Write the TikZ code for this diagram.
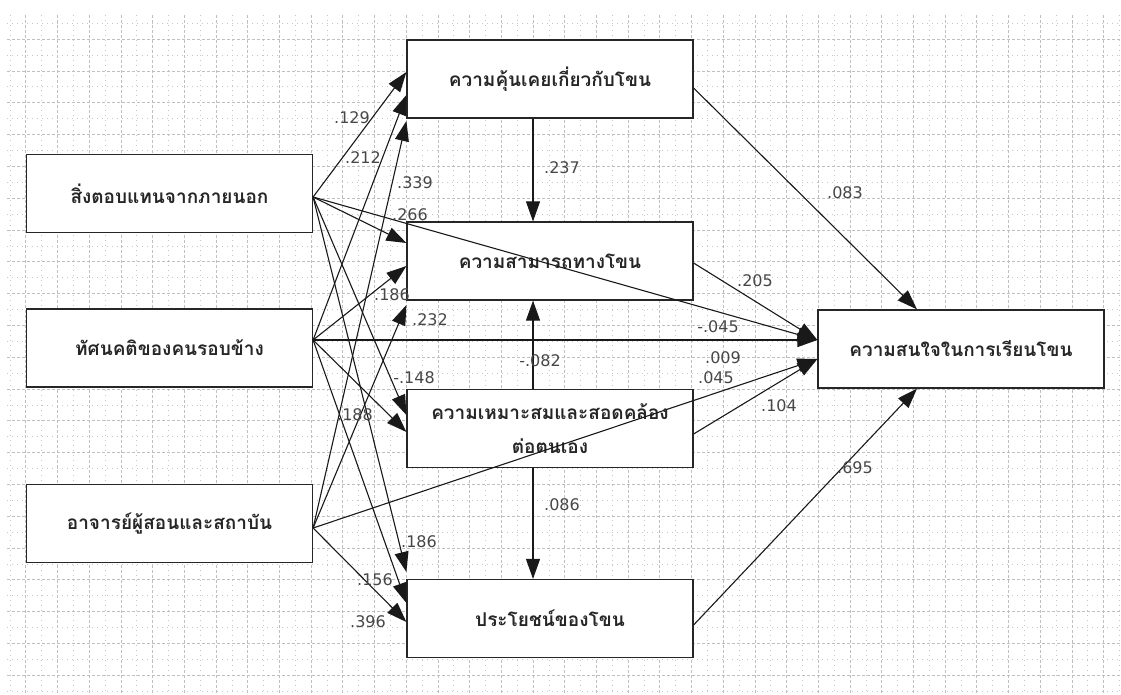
\documentclass[tikz,border=0pt]{standalone}
\usepackage{fontspec}
\usepackage{tikz}
\usetikzlibrary{arrows.meta}
\newfontfamily\thaifont[Script=Thai]{Loma}
\newfontfamily\numfont{DejaVu Sans}

\begin{document}
\begin{tikzpicture}[x=1pt, y=-1pt,
		box/.style={draw=black!85, line width=1.2pt, fill=white, minimum width=286pt, minimum height=78pt,
			inner sep=0pt, align=center, text=black!85, font=\thaifont\bfseries\fontsize{19}{34}\selectfont},
		link/.style={draw=black!90, line width=1.1pt, -{Triangle[length=20pt,width=14pt]}},
		coef/.style={inner sep=0pt, text=black!72, font=\numfont\fontsize{16}{18}\selectfont},
		gridA/.style={gray!50, line width=0.8pt, dash pattern=on 3pt off 2pt},
		gridB/.style={gray!45, line width=0.8pt, dash pattern=on 1pt off 4pt}]
		\useasboundingbox[fill=white] (0,0) rectangle (1121,695);

		% Draw the background grid
		\foreach \i in {0,...,70} {
			\pgfmathsetmacro\gx{10+15.85*\i}
			\ifodd\i \draw[gridA] (\gx,15) -- (\gx,695); \else \draw[gridB] (\gx,15) -- (\gx,695); \fi
		}
		\foreach \j in {0,...,42} {
			\pgfmathsetmacro\gy{23.3+15.9*\j}
			\ifodd\j \draw[gridA] (7,\gy) -- (1121,\gy); \else \draw[gridB] (7,\gy) -- (1121,\gy); \fi
		}

		% Draw the boxes
		\node[box] (ext) at (169.5,193.5) {สิ่งตอบแทนจากภายนอก};
		\node[box] (att) at (169.5,348) {ทัศนคติของคนรอบข้าง};
		\node[box] (tea) at (169.5,523.5) {อาจารย์ผู้สอนและสถาบัน};
		\node[box] (fam) at (550,79) {ความคุ้นเคยเกี่ยวกับโขน};
		\node[box] (abi) at (550,261) {ความสามารถทางโขน};
		\node[box] (fit) at (550,428.5) {ความเหมาะสมและสอดคล้อง\\ต่อตนเอง};
		\node[box] (use) at (550,618.5) {ประโยชน์ของโขน};
		\node[box] (int) at (961,349) {ความสนใจในการเรียนโขน};

		% Draw paths from the left column
		\foreach \t/\s in {fam/7, abi/18, fit/13.5, use/46.5}
			\draw[link] ([yshift=-3.5pt]ext.east) -- ([yshift=\s pt]\t.west);
		\foreach \t/\s in {fam/-16, abi/-5, fit/-3.5, use/15.5}
			\draw[link] ([yshift=8pt]att.east) -- ([yshift=\s pt]\t.west);
		\foreach \t/\s in {fam/-42, abi/-44, use/-3.5}
			\draw[link] ([yshift=-4.5pt]tea.east) -- ([yshift=\s pt]\t.west);
		\draw[link] ([yshift=-3.5pt]ext.east) -- ([yshift=9pt]int.west);
		\draw[link] ([yshift=8pt]att.east) -- ([yshift=9pt]int.west);
		\draw[link] ([yshift=-4.5pt]tea.east) -- ([yshift=-10pt]int.west);

		% Draw paths between the middle boxes
		\draw[link] ([xshift=-17pt]fam.south) -- ([xshift=-17pt]abi.north);
		\draw[link] ([xshift=-17pt]fit.north) -- ([xshift=-17pt]abi.south);
		\draw[link] ([xshift=-17pt]fit.south) -- ([xshift=-17pt]use.north);

		% Draw paths to the outcome
		\draw[link] ([yshift=-9pt]fam.east) -- ([xshift=-44pt]int.north);
		\draw[link] ([yshift=-2pt]abi.east) -- ([yshift=9pt]int.west);
		\draw[link] ([yshift=-5.5pt]fit.east) -- ([yshift=-10pt]int.west);
		\draw[link] ([yshift=-6.5pt]use.east) -- ([xshift=-44pt]int.south);

		% Coefficients
		\foreach \x/\y/\v [count=\n] in {352/118/.129, 363/158/.212, 415/183/.339, 410/215/.266,
				392/295/.186, 430/320/.232, 414/378/-.148, 355/415/.188, 419/542/.186, 375/580/.156,
				368/622/.396, 562/168/.237, 540/361/-.082, 562/505/.086, 845/193/.083, 755/281/.205,
				718/327/-.045, 723/358/.009, 716/378/.045, 779/406/.104, 855/468/.695}
			\node[coef] (c\n) at (\x,\y) {\v};
	\end{tikzpicture}
\end{document}
